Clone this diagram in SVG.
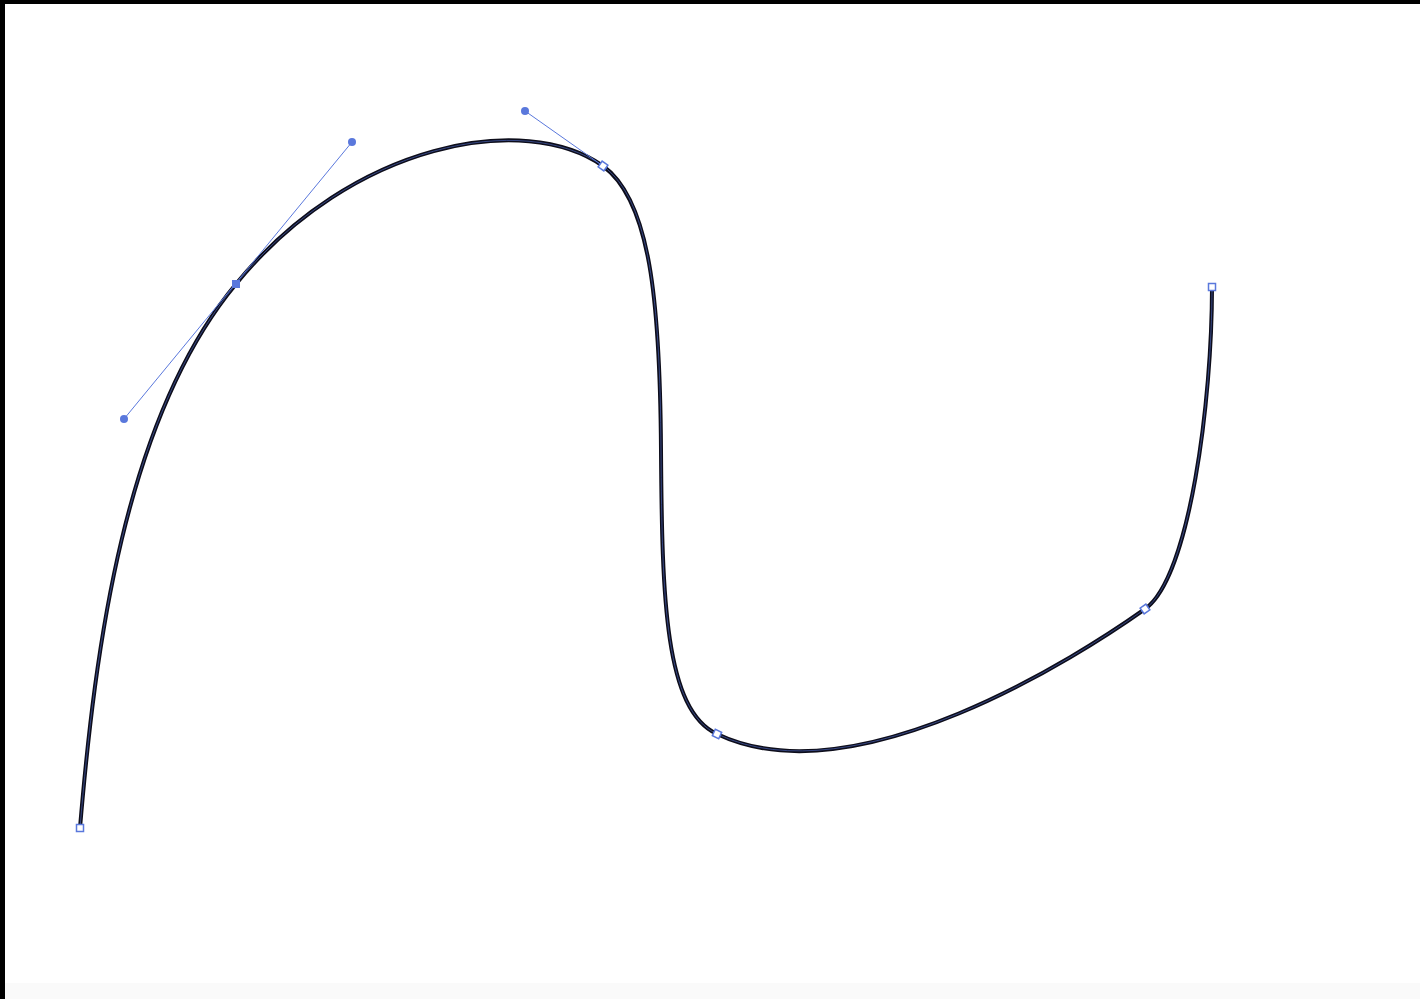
<svg xmlns="http://www.w3.org/2000/svg" width="1420" height="999" viewBox="0 0 1420 999">
<style>
.curve{fill:none;stroke:#0d0d1a;stroke-width:4;stroke-linecap:round;stroke-linejoin:round}
.hl{fill:none;stroke:#5a78dc;stroke-width:1;opacity:0.55}
.handle{stroke:#5a78dc;stroke-width:1;fill:none}
.knob{fill:#5a78dc}
.anchor{fill:#ffffff;stroke:#5a78dc;stroke-width:1.5}
.anchorSel{fill:#5a78dc;stroke:#5a78dc;stroke-width:1}
</style>
<rect x="0" y="0" width="1420" height="999" fill="#ffffff"/>
<rect x="0" y="983" width="1420" height="16" fill="#fafafa"/>
<rect x="0" y="0" width="1420" height="4" fill="#000000"/>
<rect x="0" y="0" width="5" height="999" fill="#000000"/>
<g id="connectors">
<path id="path-main" class="curve" d="M80,828 C95,650 124,419 236,284 C352,142 525,111 603,166 C650,200 660,300 661,450 C662,600 665,710 717,734 C856,800 1080,655 1145,609 C1190,577 1212,400 1212,287"/>
<path class="hl" d="M80,828 C95,650 124,419 236,284 C352,142 525,111 603,166 C650,200 660,300 661,450 C662,600 665,710 717,734 C856,800 1080,655 1145,609 C1190,577 1212,400 1212,287"/>
<line class="handle" x1="124" y1="419" x2="352" y2="142"/>
<line class="handle" x1="525" y1="111" x2="603" y2="166"/>
</g>
<g id="handle-1"><circle class="knob" cx="124" cy="419" r="4"/></g>
<g id="handle-2"><circle class="knob" cx="352" cy="142" r="4"/></g>
<g id="handle-3"><circle class="knob" cx="525" cy="111" r="4"/></g>
<g id="anchor-start"><rect class="anchor" x="76.5" y="824.5" width="7" height="7"/></g>
<g id="anchor-2"><rect class="anchorSel" x="232.5" y="280.5" width="7" height="7"/></g>
<g id="anchor-3"><rect class="anchor" x="599.5" y="162.5" width="7" height="7" transform="rotate(35 603 166)"/></g>
<g id="anchor-4"><rect class="anchor" x="713.5" y="730.5" width="7" height="7" transform="rotate(25 717 734)"/></g>
<g id="anchor-5"><rect class="anchor" x="1141.5" y="605.5" width="7" height="7" transform="rotate(-35 1145 609)"/></g>
<g id="anchor-end"><rect class="anchor" x="1208.5" y="283.5" width="7" height="7"/></g>
</svg>
